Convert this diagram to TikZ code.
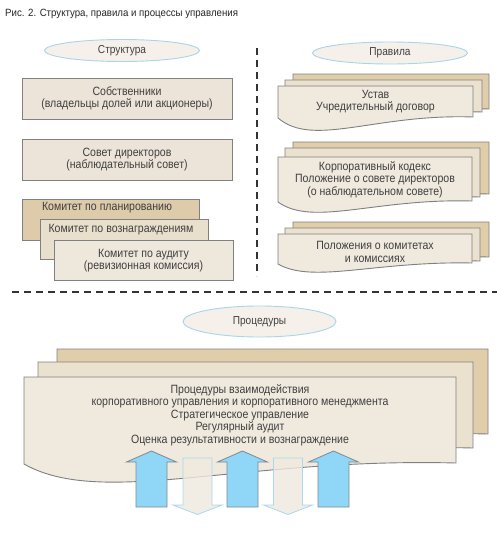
\documentclass[tikz,border=0pt]{standalone}
\usepackage{fontspec}
\setmainfont{Liberation Sans}[FakeStretch=0.88]
\newfontfamily\titlefont{Liberation Sans}[FakeStretch=0.92]
\usetikzlibrary{shapes.geometric}

\definecolor{boxfill}{HTML}{ECE4D8}
\definecolor{comfill}{HTML}{DDCBA9}
\definecolor{comtwofill}{HTML}{E9DFCD}
\definecolor{comthreefill}{HTML}{EEE7DC}
\definecolor{docback}{HTML}{E0CEAB}
\definecolor{docmid}{HTML}{EBE1CF}
\definecolor{docfront}{HTML}{EFE9DE}
\definecolor{edgegray}{HTML}{808080}
\definecolor{ellfill}{HTML}{F5F1EA}
\definecolor{elledge}{HTML}{A8D5EA}
\definecolor{upfill}{HTML}{8FD6F7}
\definecolor{upedge}{HTML}{7E8A92}
\definecolor{downfill}{HTML}{EFE9DE}
\definecolor{downedge}{HTML}{AAD9EE}
\definecolor{txt}{HTML}{404040}
\definecolor{dashcol}{HTML}{333333}

% document shape: L, T, R, B, d
\newcommand\mydocpath[5]{(#1,#2) -- (#3,#2) -- (#3,{#4-1}) .. controls ({#1+0.5*(#3-#1)},{#4-0.3*#5}) and ({#1+0.18*(#3-#1)},{#4+2*#5}) .. (#1,#4) -- cycle}
\newcommand\myuparrowpath[1]{({#1-15.5},507) -- ({#1-15.5},462) -- ({#1-25},462) -- (#1,451) -- ({#1+25},462) -- ({#1+15.5},462) -- ({#1+15.5},507) -- cycle}
\newcommand\mydownarrowpath[1]{({#1-14.5},458) -- ({#1+14.5},458) -- ({#1+14.5},505) -- ({#1+24.5},505) -- (#1,514.5) -- ({#1-24.5},505) -- ({#1-14.5},505) -- cycle}

\tikzset{
  every node/.style={text=txt},
  maintext/.style={font=\fontsize{12}{12.5}\selectfont, align=center, inner sep=0pt},
  box/.style={draw=edgegray, line width=0.9pt, fill=boxfill, rectangle, inner sep=0pt},
  ell/.style={ellipse, draw=elledge, line width=0.9pt, fill=ellfill, minimum width=155, minimum height=22, inner sep=0pt, font=\fontsize{11.5}{12}\selectfont},
  docback/.style={draw=edgegray, line width=0.9pt, fill=docback},
  docmid/.style={draw=edgegray, line width=0.9pt, fill=docmid},
  docfront/.style={draw=edgegray, line width=0.9pt, fill=docfront},
  uparr/.style={draw=upedge, line width=0.8pt, fill=upfill},
  downarr/.style={draw=downedge, line width=0.8pt, fill=downfill, fill opacity=0.8},
  dashline/.style={draw=dashcol, line width=1.6pt, dash pattern=on 7pt off 5pt},
}

\begin{document}
\begin{tikzpicture}[x=1pt, y=-1pt]
\useasboundingbox[fill=white] (0,0) rectangle (500,533);

% title
\node[anchor=west, inner sep=0pt, text=black!85, font=\titlefont\fontsize{10.5}{12}\selectfont] (title) at (5,14) {Рис. 2. Структура, правила и процессы управления};

% dashed separators
\coordinate (vtop) at (257,48);
\coordinate (vbot) at (257,276);
\coordinate (hl) at (12,292);
\coordinate (hr) at (497,292);
\draw[dashline] (vtop) -- (vbot);
\draw[dashline] (hl) -- (hr);

% ---- Structure column ----
\node[ell] (struct) at (122,50.5) {Структура};

\node[box, minimum width=210, minimum height=41, maintext] (owners) at (127,98.5) {Собственники\\(владельцы долей или акционеры)};
\node[box, minimum width=210, minimum height=41, maintext] (board) at (127,159.5) {Совет директоров\\(наблюдательный совет)};

\node[box, fill=comfill, minimum width=177, minimum height=41] (com1) at (110.5,219.5) {};
\node[maintext] (com1t) at (107,207.5) {Комитет по планированию};
\node[box, fill=comtwofill, minimum width=168, minimum height=40] (com2) at (124,239) {};
\node[maintext] (com2t) at (121,230) {Комитет по вознаграждениям};
\node[box, fill=comthreefill, minimum width=179, minimum height=40, maintext] (com3) at (143.5,260.5) {Комитет по аудиту\\(ревизионная комиссия)};

% ---- Rules column ----
\node[ell] (rules) at (390,53) {Правила};

\draw[docback] \mydocpath{293}{74}{489}{110}{15};
\draw[docmid] \mydocpath{285}{80}{482}{113}{15};
\draw[docfront] \mydocpath{278}{86}{473}{118}{15};
\node[maintext] (charter) at (375.5,101.5) {Устав\\Учредительный договор};

\draw[docback] \mydocpath{293}{142}{489}{195}{12.5};
\draw[docmid] \mydocpath{285}{148}{480}{198}{12.5};
\draw[docfront] \mydocpath{278}{157}{472}{202}{12.5};
\node[maintext] (code) at (375,179.5) {Корпоративный кодекс\\Положение о совете директоров\\(о наблюдательном совете)};

\draw[docback] \mydocpath{293}{222}{489}{258}{10};
\draw[docmid] \mydocpath{285}{228}{480}{262}{10};
\draw[docfront] \mydocpath{278}{234}{472}{264}{10};
\node[maintext] (regs) at (375,252) {Положения о комитетах\\и комиссиях};

% ---- Procedures ----
\node[ell, minimum width=153, minimum height=31] (proc) at (259.5,321.5) {Процедуры};

\draw[docback] \mydocpath{57}{349}{488}{435}{21};
\draw[docmid] \mydocpath{38}{362}{473}{449}{21};
\draw[docfront] \mydocpath{24}{377}{456}{464}{22};
\node[maintext] (proct) at (240,415) {Процедуры взаимодействия\\корпоративного управления и корпоративного менеджмента\\Стратегическое управление\\Регулярный аудит\\Оценка результативности и вознаграждение};

\draw[uparr] \myuparrowpath{151.5};
\draw[uparr] \myuparrowpath{242.5};
\draw[uparr] \myuparrowpath{333.5};
\draw[downarr] \mydownarrowpath{197.5};
\draw[downarr] \mydownarrowpath{288};
\end{tikzpicture}
\end{document}
